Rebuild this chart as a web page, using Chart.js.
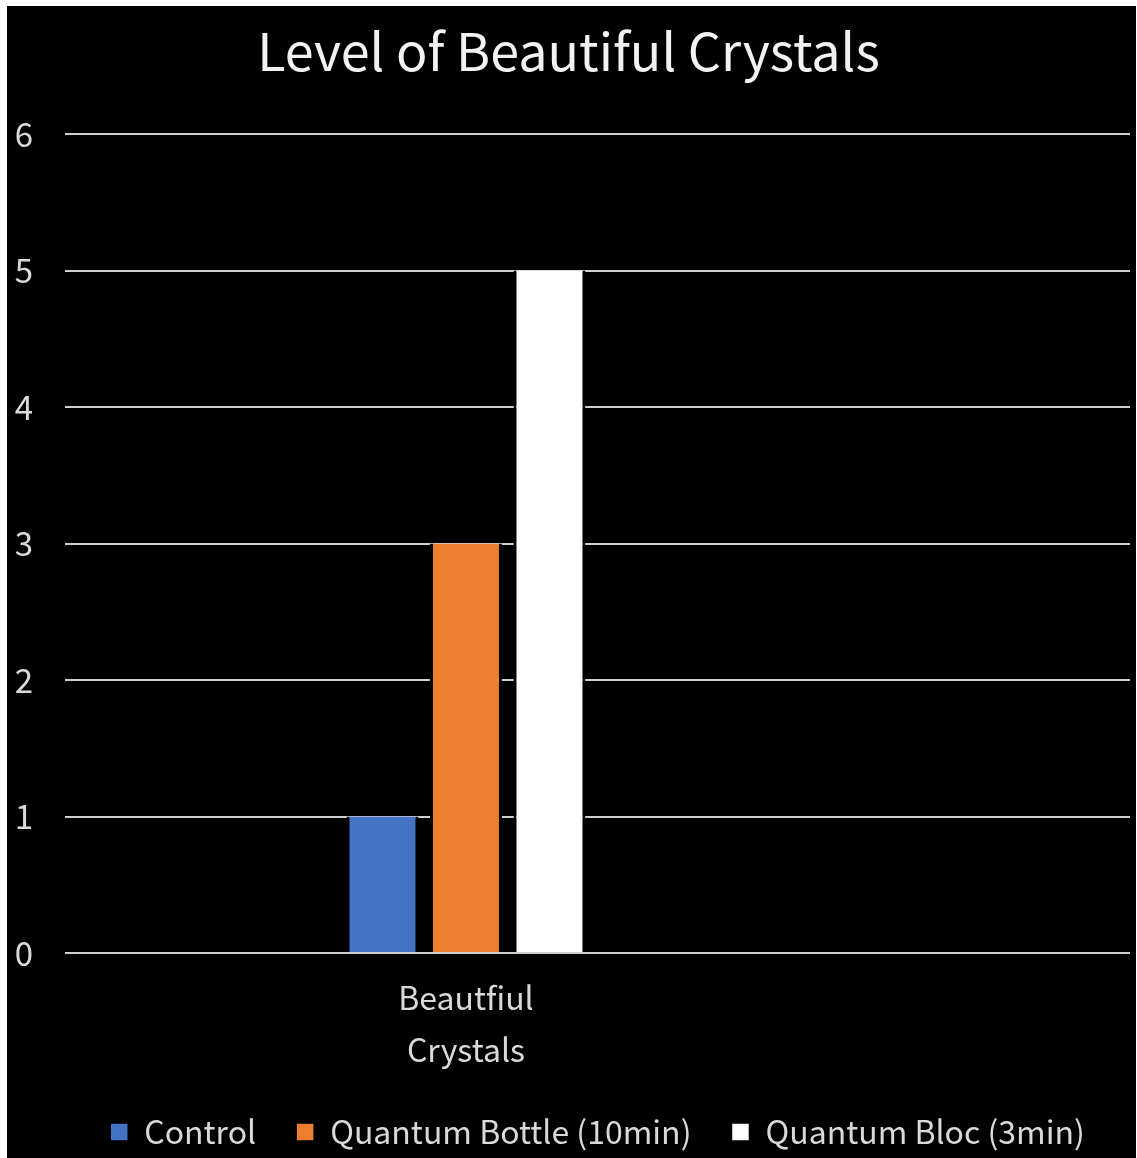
<!DOCTYPE html>
<html>
<head>
<meta charset="utf-8">
<script src="https://cdn.jsdelivr.net/npm/chart.js@4"></script>
<style>
  html, body { margin: 0; padding: 0; background: #ffffff; }
  #wrap { position: absolute; left: 7px; top: 6px; width: 1129px; height: 1152px; background: #000000; overflow: hidden; }
  canvas { display: block; }
</style>
</head>
<body>
<div id="wrap"><canvas id="c" width="1129" height="1152"></canvas></div>
<script>
const titleText = 'Level of Beautiful Crystals';
const categories = [['Beautfiul', 'Crystals']];
const seriesNames = ['Control', 'Quantum Bottle (10min)', 'Quantum Bloc (3min)'];
const controlValues = [1];
const bottleValues = [3];
const blocValues = [5];
const yTicks = [0, 1, 2, 3, 4, 5, 6];

const FONT = "'Noto Sans CJK JP', 'Noto Sans', sans-serif";
const TXT = '#d9d9d9';

const barStyle = {
  borderColor: '#000000',
  borderWidth: { left: 3, right: 3, top: 0, bottom: 0 },
  borderSkipped: false,
  barPercentage: 0.862,
  categoryPercentage: 0.2352
};

new Chart(document.getElementById('c'), {
  type: 'bar',
  data: {
    labels: categories,
    datasets: [
      Object.assign({ label: seriesNames[0], data: controlValues, backgroundColor: '#4472c4' }, barStyle),
      Object.assign({ label: seriesNames[1], data: bottleValues, backgroundColor: '#ed7d31' }, barStyle),
      Object.assign({ label: seriesNames[2], data: blocValues, backgroundColor: '#ffffff' }, barStyle)
    ]
  },
  options: {
    responsive: false,
    animation: false,
    layout: { padding: { left: 0, right: 6, top: 0, bottom: 2 } },
    plugins: {
      title: {
        display: true,
        text: titleText,
        color: '#f2f2f2',
        font: { family: FONT, size: 52, weight: 'normal', lineHeight: 1.2 },
        padding: { top: 14, bottom: 51.6 }
      },
      legend: {
        position: 'bottom',
        fullSize: false,
        maxHeight: 80,
        labels: {
          color: TXT,
          font: { family: FONT, size: 32 },
          boxWidth: 18,
          boxHeight: 18,
          padding: 40
        }
      },
      tooltip: { enabled: false }
    },
    scales: {
      x: {
        grid: { display: false, drawTicks: false },
        border: { display: false },
        ticks: {
          color: TXT,
          font: { family: FONT, size: 32, lineHeight: 1.625 },
          padding: 19,
          maxRotation: 0,
          autoSkip: false
        },
        afterBuildTicks: s => { s._valueRange = 1.328; },
        afterFit: s => { s.height = 123; }
      },
      y: {
        min: 0,
        max: 6,
        afterBuildTicks: s => { s.ticks = yTicks.map(v => ({ value: v })); },
        grid: { color: '#d0d0d0', lineWidth: 2, drawTicks: false },
        border: { display: false },
        ticks: {
          color: TXT,
          font: { family: FONT, size: 33 },
          padding: 32,
          stepSize: 1
        },
        afterFit: s => { s.width = 58; }
      }
    }
  }
});
</script>
</body>
</html>
